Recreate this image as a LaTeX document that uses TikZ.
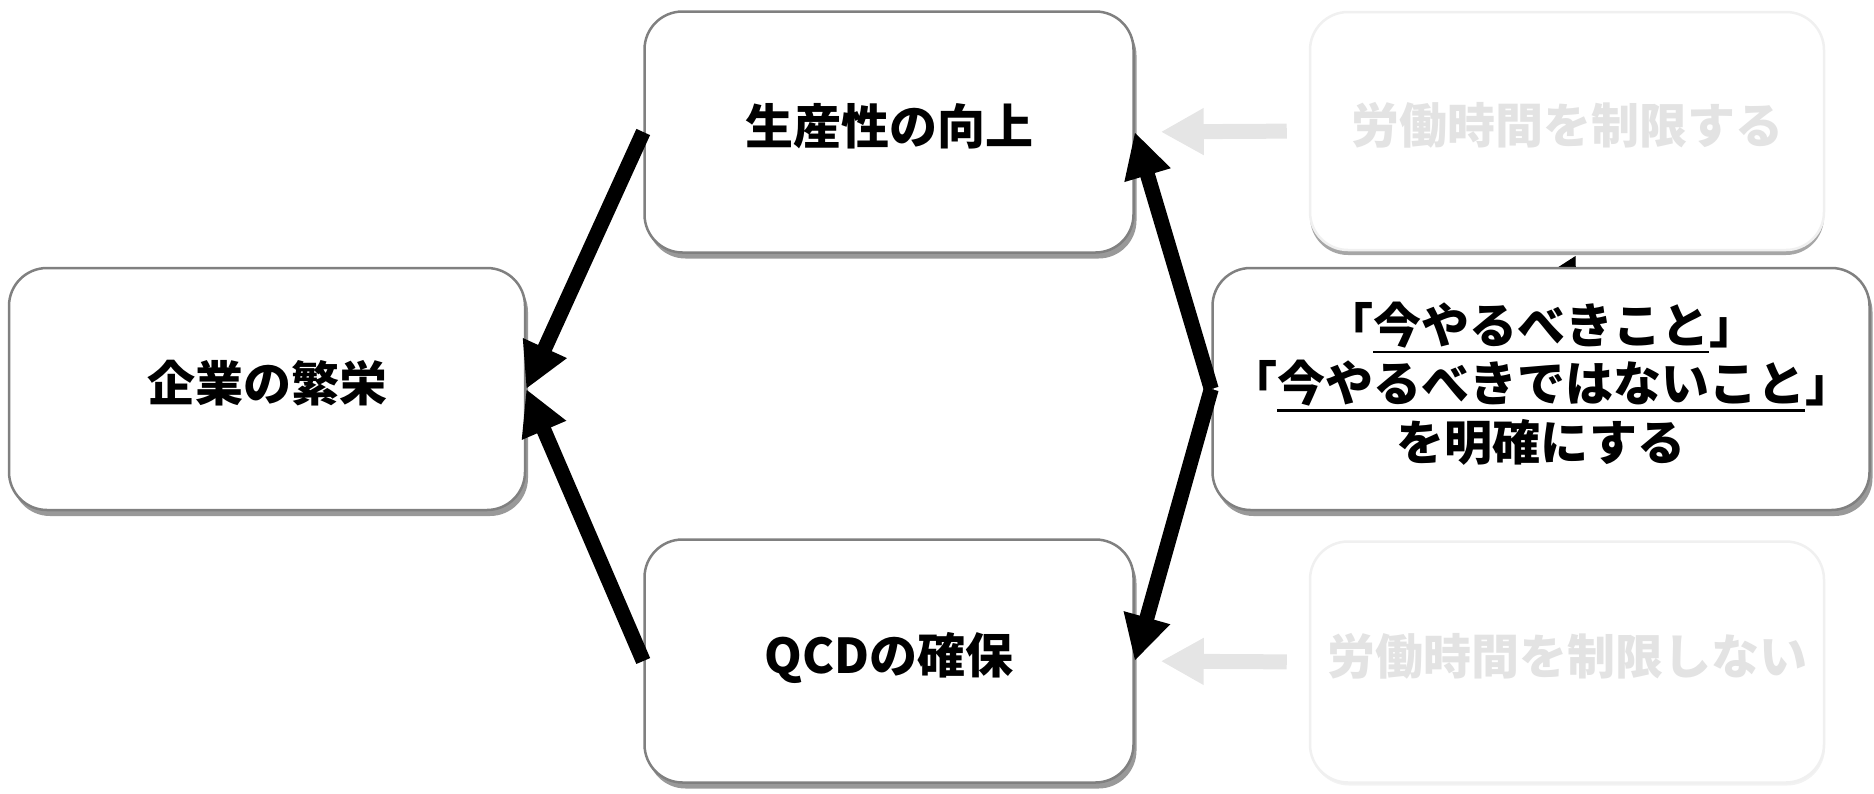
\documentclass[tikz,border=0pt]{standalone}
\usepackage{fontspec}
\setmainfont{Noto Sans CJK JP}[BoldFont={Noto Sans CJK JP Black}]
\usetikzlibrary{arrows.meta,shadows,backgrounds}
\newcommand{\kasen}[1]{\setbox0\hbox{#1}\rlap{\rule[-10pt]{\wd0}{2.5pt}}\box0}

\begin{document}
\begin{tikzpicture}[x=1pt,y=-1pt,
	box/.style={rectangle, rounded corners=38pt, line width=2.5pt, fill=white, inner sep=0pt, align=center, text depth=16pt, font={\fontsize{48pt}{58.5pt}\selectfont\bfseries\lineskiplimit=-100pt\relax}},
	card/.style={box, draw=black!50, drop shadow={shadow xshift=3pt, shadow yshift=-6pt, fill=black, opacity=0.4}},
	faded/.style={box, draw=black!6, text=black!11},
	link/.style={line width=15pt, -{Triangle[length=45pt, width=45pt]}},
	hint/.style={draw=black!10, line width=15pt, -{Triangle[length=43pt, width=44pt]}, shorten <=22pt, shorten >=26pt}]
	\useasboundingbox (0,0) rectangle (1874,793);
	\node (prosper) at ( 267, 389)	[card, minimum width=516pt, minimum height=242pt]	{企業の繁栄};
	\node (product) at ( 889, 132)	[card, minimum width=489pt, minimum height=241pt]	{生産性の向上};
	\node (qcd)     at ( 889, 661)	[card, minimum width=489pt, minimum height=243pt]	{QCDの確保};
	\node (limit)   at (1567, 131)	[faded, minimum width=514pt, minimum height=238pt, drop shadow={shadow xshift=0pt, shadow yshift=-5pt, fill=black, opacity=0.35}]	{労働時間を制限する};
	\node (nolimit) at (1567, 662)	[faded, minimum width=514pt, minimum height=241pt, drop shadow={shadow xshift=1pt, shadow yshift=-3pt, fill=black, opacity=0.05}]	{労働時間を制限しない};
	\node (clarify) at (1541, 389)	[card, minimum width=657pt, minimum height=242pt]	{「\kasen{今やるべきこと}」\\「\kasen{今やるべきではないこと}」\\を明確にする};
	\coordinate (tipE) at (1575, 256);

	% arrow hidden behind the boxes, only its tip shows
	\begin{scope}[on background layer]
		\draw[line width=1pt, -{Triangle[harpoon, length=11pt, width=34pt]}] (tipE |- clarify.center) -- (tipE);
	\end{scope}

	\draw[link] (product.west) -- (prosper.east);
	\draw[link] (qcd.west) -- (prosper.east);
	\draw[link] (clarify.west) -- (product.east);
	\draw[link] (clarify.west) -- (qcd.east);

	\draw[hint] (limit.west) -- (product.east);
	\draw[hint] (nolimit.west) -- (qcd.east);
\end{tikzpicture}
\end{document}
